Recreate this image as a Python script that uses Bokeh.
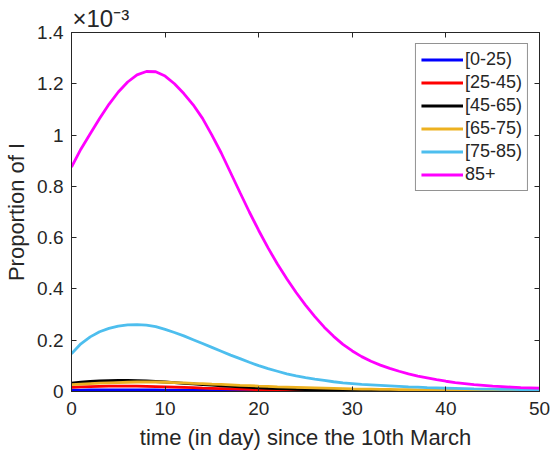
from bokeh.plotting import figure
from bokeh.models import (Range1d, LinearAxis, FixedTicker, Legend, LegendItem, Title)
from bokeh.embed import file_html
from bokeh.resources import INLINE

# Days since 10 March
days = list(range(0, 51))

# Proportion of infected per age group (units of 1e-3)
i_0_25 = [0.005, 0.0055, 0.006, 0.0063, 0.0065, 0.0066, 0.0066, 0.0065, 0.0063, 0.006,
          0.0057, 0.0053, 0.005, 0.0046, 0.0042, 0.0038, 0.0035, 0.0031, 0.0028, 0.0025,
          0.0022, 0.002, 0.0018, 0.0016, 0.0014, 0.0012, 0.0011, 0.001, 0.0009, 0.0008,
          0.0007, 0.0006, 0.0006, 0.0005, 0.0005, 0.0004, 0.0004, 0.0004, 0.0003, 0.0003,
          0.0003, 0.0002, 0.0002, 0.0002, 0.0002, 0.0002, 0.0001, 0.0001, 0.0001, 0.0001, 0.0001]
i_25_45 = [0.016, 0.018, 0.019, 0.020, 0.021, 0.021, 0.021, 0.021, 0.020, 0.019,
           0.018, 0.017, 0.016, 0.015, 0.013, 0.012, 0.011, 0.010, 0.009, 0.008,
           0.007, 0.0062, 0.0055, 0.0048, 0.0042, 0.0037, 0.0032, 0.0028, 0.0025, 0.0022,
           0.0019, 0.0017, 0.0015, 0.0013, 0.0011, 0.001, 0.0009, 0.0008, 0.0007, 0.0006,
           0.0005, 0.0005, 0.0004, 0.0004, 0.0003, 0.0003, 0.0003, 0.0002, 0.0002, 0.0002, 0.0002]
i_45_65 = [0.033, 0.036, 0.039, 0.041, 0.042, 0.043, 0.043, 0.042, 0.041, 0.039,
           0.037, 0.035, 0.032, 0.030, 0.027, 0.025, 0.022, 0.020, 0.018, 0.016,
           0.014, 0.012, 0.011, 0.010, 0.008, 0.007, 0.0065, 0.0058, 0.005, 0.0045,
           0.004, 0.0035, 0.003, 0.0027, 0.0024, 0.0021, 0.0019, 0.0017, 0.0015, 0.0013,
           0.0012, 0.0011, 0.001, 0.0009, 0.0008, 0.0007, 0.0006, 0.0006, 0.0005, 0.0005, 0.0004]
i_65_75 = [0.027, 0.029, 0.031, 0.033, 0.034, 0.035, 0.036, 0.037, 0.037, 0.037,
           0.036, 0.035, 0.034, 0.032, 0.031, 0.029, 0.028, 0.026, 0.024, 0.023,
           0.021, 0.020, 0.018, 0.017, 0.016, 0.015, 0.014, 0.013, 0.012, 0.011,
           0.010, 0.0095, 0.009, 0.0085, 0.008, 0.0075, 0.007, 0.0065, 0.006, 0.0055,
           0.005, 0.0047, 0.0044, 0.0041, 0.0038, 0.0035, 0.0033, 0.0031, 0.0029, 0.0027, 0.0025]
i_75_85 = [0.147, 0.186, 0.213, 0.233, 0.246, 0.255, 0.260, 0.261, 0.259, 0.253,
           0.242, 0.230, 0.217, 0.202, 0.187, 0.172, 0.157, 0.142, 0.128, 0.114,
           0.101, 0.089, 0.079, 0.069, 0.061, 0.054, 0.048, 0.043, 0.038, 0.034,
           0.031, 0.028, 0.026, 0.024, 0.022, 0.020, 0.018, 0.017, 0.015, 0.014,
           0.013, 0.012, 0.011, 0.010, 0.0095, 0.009, 0.0085, 0.008, 0.0075, 0.007, 0.0068]
i_85p = [0.875, 0.945, 1.005, 1.065, 1.120, 1.168, 1.207, 1.235, 1.248, 1.247,
         1.230, 1.200, 1.162, 1.118, 1.065, 1.000, 0.930, 0.853, 0.776, 0.700,
         0.628, 0.560, 0.497, 0.440, 0.386, 0.337, 0.292, 0.251, 0.215, 0.184,
         0.158, 0.136, 0.118, 0.103, 0.090, 0.079, 0.069, 0.060, 0.053, 0.046,
         0.040, 0.035, 0.031, 0.027, 0.024, 0.021, 0.019, 0.017, 0.015, 0.014, 0.013]

groups = ["[0-25)", "[25-45)", "[45-65)", "[65-75)", "[75-85)", "85+"]
series = [i_0_25, i_25_45, i_45_65, i_65_75, i_75_85, i_85p]
colors = ["#0000FF", "#FF0000", "#000000", "#EDB120", "#4DBEEE", "#FF00FF"]

x_ticks = [0, 10, 20, 30, 40, 50]
y_ticks = [0, 0.2, 0.4, 0.6, 0.8, 1.0, 1.2, 1.4]
y_tick_labels = ["0", "0.2", "0.4", "0.6", "0.8", "1", "1.2", "1.4"]
y_multiplier = "×10⁻³"

FONT = "Liberation Sans"
INK = "#262626"

p = figure(width=552, height=455, output_backend="svg", toolbar_location=None,
           title=None,
           x_range=Range1d(0, 50), y_range=Range1d(0, 1.4),
           min_border_left=71, min_border_right=13, min_border_top=32, min_border_bottom=64)
p.xgrid.visible = False
p.ygrid.visible = False
p.outline_line_color = INK
p.outline_line_width = 1
p.background_fill_color = "white"
p.border_fill_color = "white"

def style_axis(ax, ticks, show_labels=True):
    ax.ticker = FixedTicker(ticks=ticks)
    ax.major_tick_in = 5
    ax.major_tick_out = 0
    ax.minor_tick_line_color = None
    ax.axis_line_color = INK
    ax.major_tick_line_color = INK
    ax.major_label_text_font = FONT
    ax.major_label_text_color = INK
    ax.major_label_text_font_size = "19px"
    ax.axis_label_text_font = FONT
    ax.axis_label_text_color = INK
    ax.axis_label_text_font_size = "22px"
    ax.axis_label_text_font_style = "normal"
    if not show_labels:
        # tick marks only on the mirrored axes
        ax.major_label_overrides = {t: "" for t in ticks}
        ax.major_label_text_font_size = "1px"
        ax.major_label_standoff = 0

xa = p.xaxis[0]
ya = p.yaxis[0]
style_axis(xa, x_ticks)
style_axis(ya, y_ticks)
xa.axis_label = "time (in day) since the 10th March"
ya.axis_label = "Proportion of I"
xa.major_label_standoff = 10
ya.major_label_standoff = 8
xa.axis_label_standoff = 7
ya.axis_label_standoff = 5
ya.major_label_overrides = {t: s for t, s in zip(y_ticks, y_tick_labels)}

top = LinearAxis()
right = LinearAxis()
style_axis(top, x_ticks, show_labels=False)
style_axis(right, y_ticks, show_labels=False)
p.add_layout(top, "above")
p.add_layout(right, "right")

# Exponent of the y values, written above the top-left corner of the axes
p.add_layout(Title(text=y_multiplier, align="left", offset=1, standoff=2,
                   text_font=FONT, text_font_size="24px", text_font_style="normal",
                   text_color=INK), "above")

items = []
for name, vals, col in zip(groups, series, colors):
    r = p.line(days, vals, line_color=col, line_width=2.8)
    items.append(LegendItem(label=name, renderers=[r]))

legend = Legend(items=items, location="top_right", margin=11,
                glyph_width=42, glyph_height=21, label_height=21, spacing=2,
                padding=5, label_standoff=2,
                label_text_font=FONT, label_text_font_size="18px", label_text_color=INK,
                border_line_color=INK, border_line_width=1,
                background_fill_color="white", background_fill_alpha=1)
p.add_layout(legend, "center")

open("out.html", "w").write(file_html(p, INLINE))
